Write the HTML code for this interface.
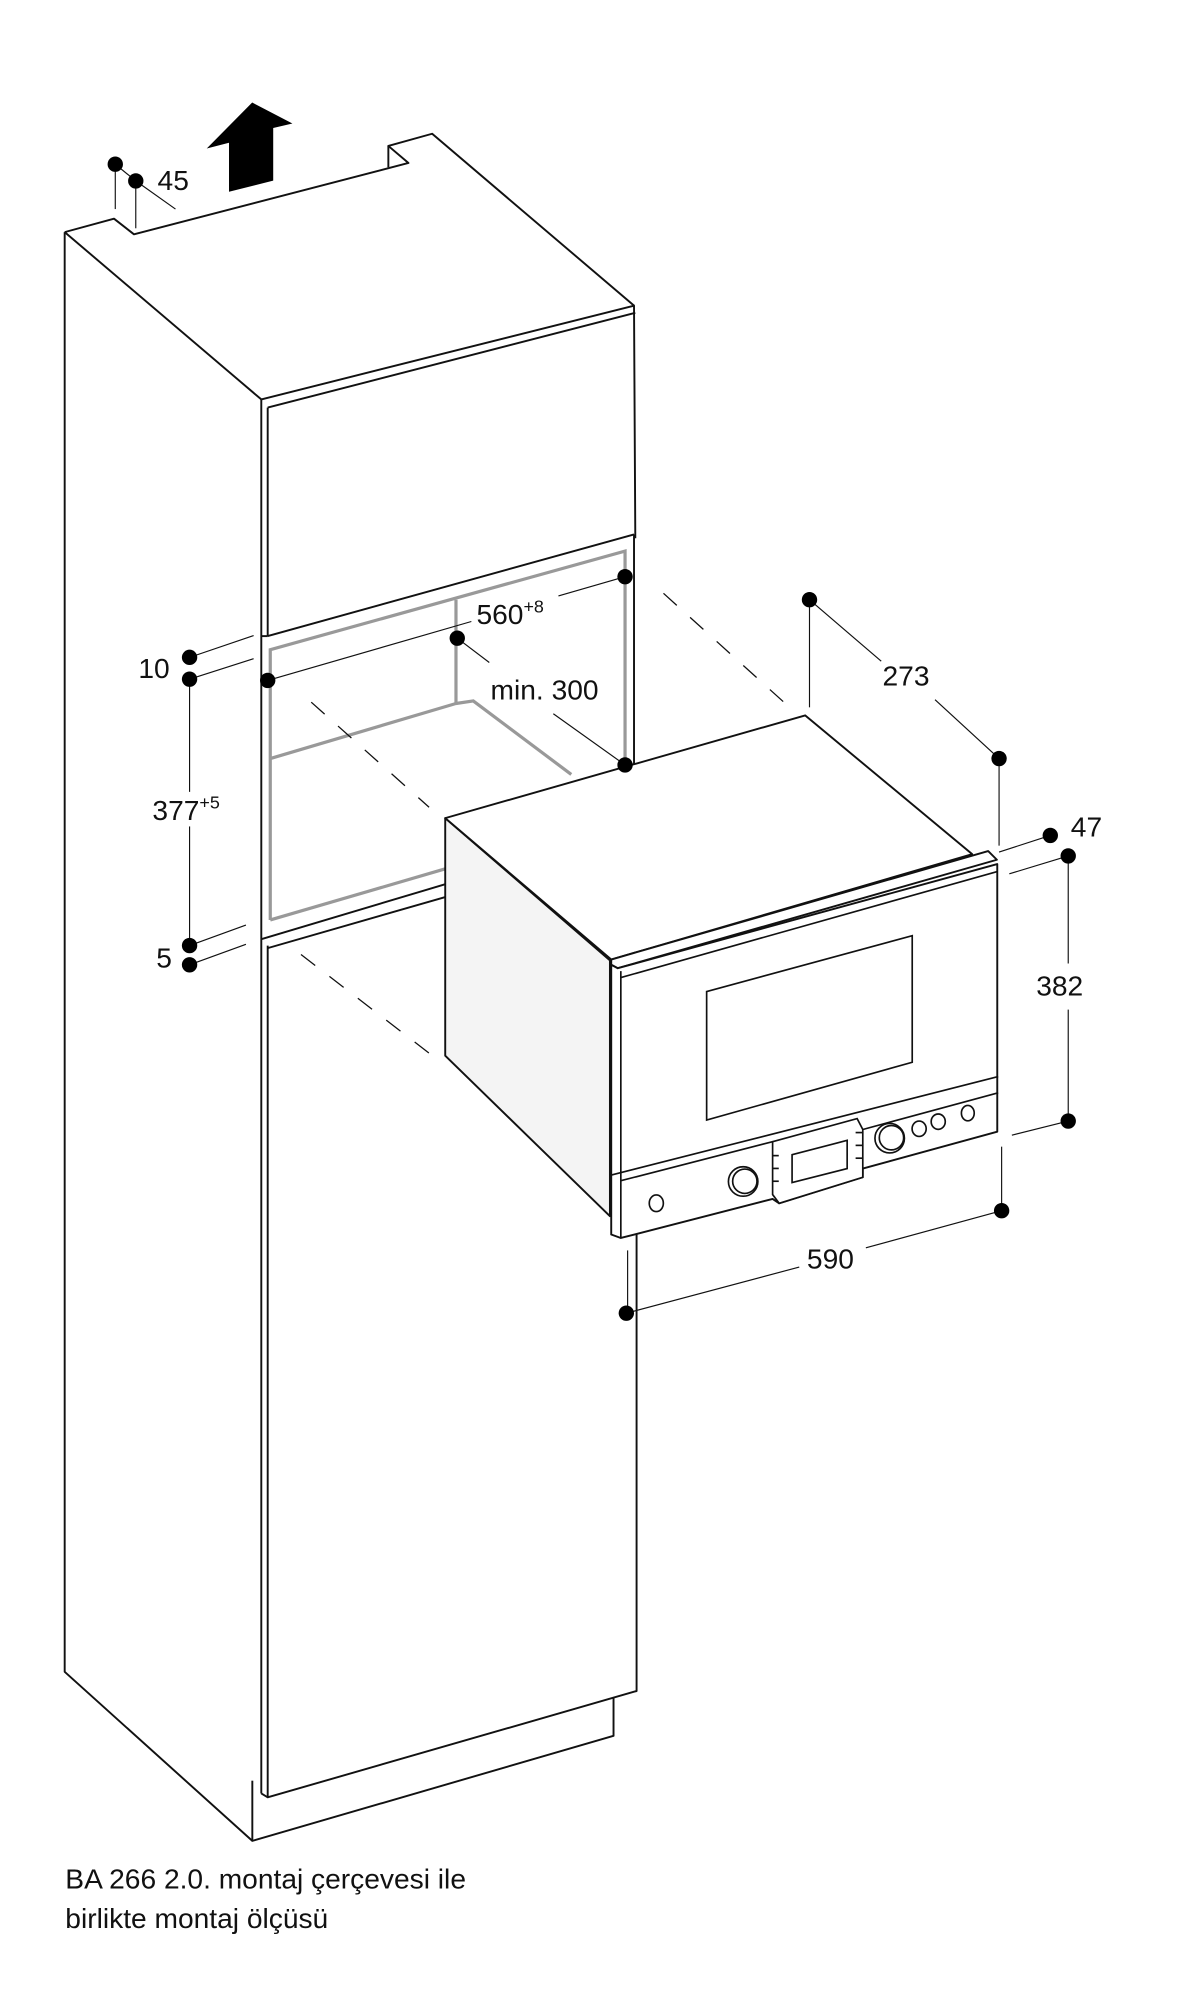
<!DOCTYPE html>
<html><head><meta charset="utf-8"><style>
html,body{margin:0;padding:0;background:#fff;}
svg{display:block;}
text{font-family:"Liberation Sans",sans-serif;fill:#111;}
</style></head><body>
<svg width="1204" height="2000" viewBox="0 0 940 1561" xmlns="http://www.w3.org/2000/svg">
<g fill="none" stroke="#111" stroke-width="1.5" stroke-linejoin="round">
<polyline points="50.5,181 89,170.5 104.6,182.7 318.9,127 303.2,113.7 337.4,104.2 495,238.4"/>
<line x1="303.2" y1="113.7" x2="303.2" y2="130.4"/>
<line x1="50.5" y1="181" x2="204" y2="311.6"/>
<polyline points="204,311.6 495,238.4 496,420"/>
<line x1="209" y1="318" x2="496" y2="244"/>
<polyline points="50.5,181 50.5,1305 197,1437 479,1355 479,1325"/>
<line x1="197" y1="1390" x2="197" y2="1437"/>
<line x1="204" y1="311.6" x2="204" y2="1400"/>
<line x1="209" y1="318" x2="209" y2="496.4"/>
<line x1="204" y1="496.4" x2="209" y2="496.4"/>
<line x1="209" y1="496.4" x2="495" y2="417"/>
<line x1="209" y1="738" x2="209" y2="1403"/>
<line x1="204" y1="733" x2="348" y2="690"/>
<line x1="209" y1="740" x2="348" y2="700"/>
<polyline points="204,1400 209,1403 497,1320 497,600"/>
<line x1="495" y1="417" x2="495" y2="600"/>
</g>
<g fill="none" stroke="#999" stroke-width="2.5">
<polyline points="211,718 211,507 488,430 488,597"/>
<line x1="211" y1="718" x2="348" y2="678"/>
<polyline points="356,468 356,549 211,592"/>
<polyline points="356,549 369.5,547 446,604.4"/>
</g>
<g stroke="#111" stroke-width="1" stroke-dasharray="14,14">
<line x1="518" y1="463" x2="612" y2="548"/>
<line x1="243" y1="548" x2="335" y2="630"/>
<line x1="235" y1="745" x2="335" y2="822"/>
</g>
<g stroke="#111" stroke-width="1.5" stroke-linejoin="round">
<polygon points="347.6,638.5 476.2,749.6 476.2,949.3 347.6,824" fill="#f4f4f4"/>
<polygon points="347.6,638.5 628.6,558.3 759,666.6 477.2,748.9" fill="#fff"/>
<polygon points="477.2,748.9 771.5,664.2 778.3,671 482.3,755.7 477.2,753" fill="#fff"/>
<polygon points="477.2,753 482.3,755.7 778.6,674.4 778.6,883.3 673.6,912.1 673.6,918.9 608.3,939.2 603.2,935.8 484.7,966.3 477.2,963.6" fill="#fff"/>
</g>
<g fill="none" stroke="#111" stroke-width="1.3">
<line x1="484.7" y1="758" x2="484.7" y2="966.3"/>
<line x1="484.7" y1="763" x2="778.6" y2="680.2"/>
<polygon points="551.7,773.9 712.2,730.3 712.2,829.1 551.7,874.2"/>
<line x1="477.2" y1="917.2" x2="779.3" y2="840.3"/>
<line x1="484.7" y1="921.6" x2="603.2" y2="891.1"/>
<line x1="673.6" y1="881.6" x2="779.3" y2="853"/>
<polygon points="603.2,891.1 669.2,873.1 673.6,881.6 673.6,918.9 608.3,939.2 603.2,932.4" fill="#fff"/>
<polygon points="618.4,901.3 661.4,890.1 661.4,912.1 618.4,923"/>
<line x1="603.2" y1="902" x2="608" y2="902"/><line x1="603.2" y1="912" x2="608" y2="912"/><line x1="603.2" y1="922" x2="608" y2="922"/>
<line x1="668" y1="884" x2="673" y2="884"/><line x1="668" y1="894" x2="673" y2="894"/><line x1="668" y1="904" x2="673" y2="904"/>
<circle cx="580.2" cy="922.2" r="11.5"/><circle cx="581.5" cy="922" r="9.5"/>
<circle cx="694.6" cy="888.4" r="11.5"/><circle cx="696" cy="888" r="9.5"/>
<ellipse cx="512.4" cy="939.2" rx="5.5" ry="6.5"/>
<ellipse cx="717.6" cy="881" rx="5.5" ry="6"/>
<ellipse cx="732.5" cy="875.5" rx="5.5" ry="6"/>
<ellipse cx="755.6" cy="868.8" rx="5" ry="6"/>
</g>
<g stroke="#111" stroke-width="0.9" fill="none">
<line x1="90" y1="128" x2="90" y2="163"/>
<line x1="106" y1="141" x2="106" y2="178"/>
<line x1="90" y1="128" x2="106" y2="141"/>
<line x1="106" y1="141" x2="137" y2="163"/>
<line x1="148" y1="513" x2="198" y2="496"/>
<line x1="148" y1="530" x2="198" y2="514"/>
<line x1="148" y1="530" x2="148" y2="618"/>
<line x1="148" y1="645" x2="148" y2="738"/>
<line x1="148" y1="738" x2="192" y2="722"/>
<line x1="148" y1="753" x2="192" y2="737"/>
<line x1="209" y1="531" x2="368" y2="485"/>
<line x1="436" y1="465" x2="488" y2="450"/>
<line x1="357" y1="498" x2="382" y2="517"/>
<line x1="432" y1="557" x2="488" y2="597"/>
<line x1="632" y1="468" x2="632" y2="552"/>
<line x1="632" y1="468" x2="688" y2="516"/>
<line x1="730" y1="546" x2="780" y2="592"/>
<line x1="780" y1="592" x2="780" y2="660"/>
<line x1="780" y1="665" x2="820" y2="652"/>
<line x1="788" y1="682" x2="834" y2="668"/>
<line x1="834" y1="668" x2="834" y2="752"/>
<line x1="834" y1="788" x2="834" y2="875"/>
<line x1="790" y1="886" x2="834" y2="875"/>
<line x1="782" y1="895" x2="782" y2="945"/>
<line x1="782" y1="945" x2="676" y2="974"/>
<line x1="624" y1="989" x2="489" y2="1025"/>
<line x1="490" y1="976" x2="490" y2="1025"/>
</g>
<g fill="#000">
<circle cx="90" cy="128" r="6"/><circle cx="106" cy="141" r="6"/>
<circle cx="148" cy="513" r="6"/><circle cx="148" cy="530" r="6"/>
<circle cx="148" cy="738" r="6"/><circle cx="148" cy="753" r="6"/>
<circle cx="209" cy="531" r="6"/><circle cx="488" cy="450" r="6"/>
<circle cx="357" cy="498" r="6"/><circle cx="488" cy="597" r="6"/>
<circle cx="632" cy="468" r="6"/><circle cx="780" cy="592" r="6"/>
<circle cx="820" cy="652" r="6"/><circle cx="834" cy="668" r="6"/>
<circle cx="834" cy="875" r="6"/><circle cx="782" cy="945" r="6"/>
<circle cx="489" cy="1025" r="6"/>
<polygon points="196.9,79.8 228.3,96.2 213.3,99.7 213.3,140.8 178.8,149.5 178.8,111.2 161.4,115.7"/>
</g>
<g font-size="22">
<text x="123" y="148">45</text>
<text x="108" y="529">10</text>
<text x="119" y="640">377<tspan font-size="14" dy="-9">+5</tspan></text>
<text x="122" y="755">5</text>
<text x="372" y="487">560<tspan font-size="14" dy="-9">+8</tspan></text>
<text x="383" y="546">min. 300</text>
<text x="689" y="535">273</text>
<text x="836" y="653">47</text>
<text x="809" y="777">382</text>
<text x="630" y="990">590</text>
<text x="51" y="1474">BA 266 2.0. montaj çerçevesi ile</text>
<text x="51" y="1505">birlikte montaj ölçüsü</text>
</g>
</svg>
</body></html>
